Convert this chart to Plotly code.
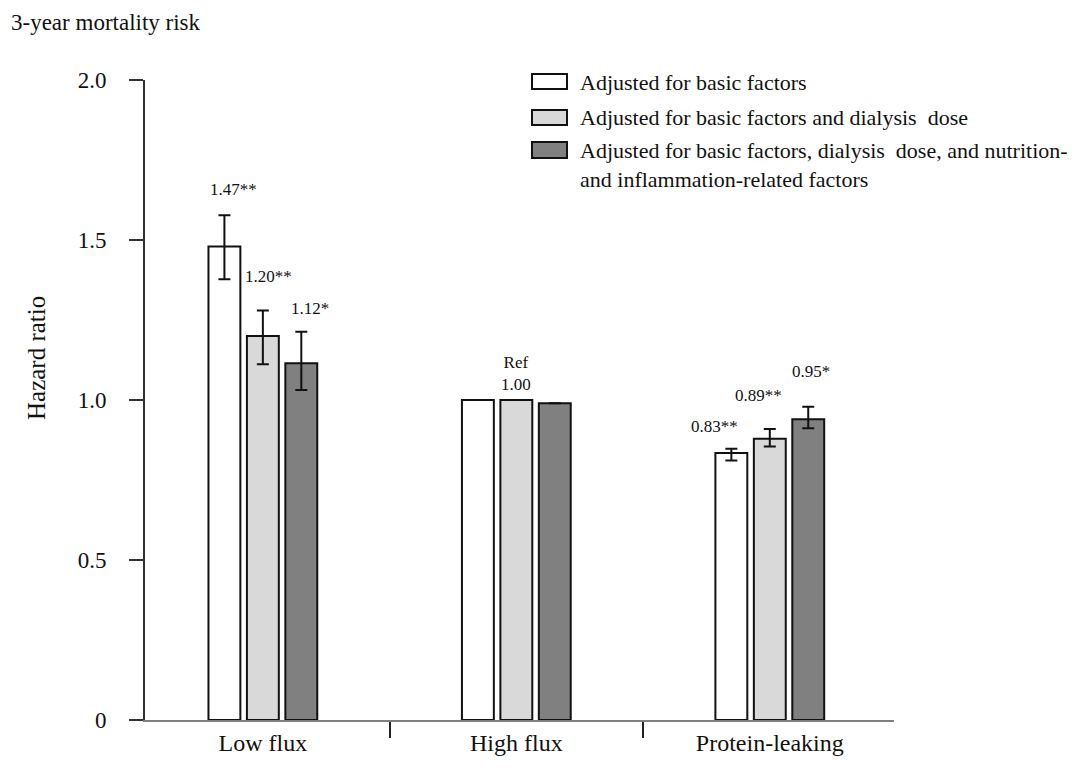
import plotly.graph_objects as go

# categories and series
grupos = ["Low flux", "High flux", "Protein-leaking"]
series = [
    "Adjusted for basic factors",
    "Adjusted for basic factors and dialysis  dose",
    "Adjusted for basic factors, dialysis  dose, and nutrition-<br>and inflammation-related factors",
]

hr_basic = [1.48, 1.00, 0.834]
hr_dose = [1.20, 1.00, 0.879]
hr_full = [1.115, 0.99, 0.94]

sup_basic = [1.577, None, 0.848]
sup_dose = [1.28, None, 0.909]
sup_full = [1.213, None, 0.979]

inf_basic = [1.377, None, 0.811]
inf_dose = [1.112, None, 0.855]
inf_full = [1.031, None, 0.912]

etiq_basic = ["1.47**", "", "0.83**"]
etiq_dose = ["1.20**", "Ref<br>1.00", "0.89**"]
etiq_full = ["1.12*", "", "0.95*"]

ticks_y = [0, 0.5, 1.0, 1.5, 2.0]
ticks_y_txt = ["0", "0.5", "1.0", "1.5", "2.0"]

colores = ["#ffffff", "#d9d9d9", "#808080"]
FUENTE = "Liberation Serif"

# la pagina tiene 8px de margen en el body
BODY = 8
W, H = 1084 - BODY, 774 - BODY
ML, MR, MT, MB = 145 - BODY, 190, 80 - BODY, 54
BARGAP = 0.545


def px_x(p):
    return (p - BODY - ML) / (W - ML - MR)


def px_y(p):
    return (H - MB - (p - BODY)) / (H - MT - MB)


fig = go.Figure()
datos = [
    (hr_basic, sup_basic, inf_basic),
    (hr_dose, sup_dose, inf_dose),
    (hr_full, sup_full, inf_full),
]
for nombre, (vals, sup, inf), color in zip(series, datos, colores):
    arriba = [None if s is None else s - v for s, v in zip(sup, vals)]
    abajo = [None if i is None else v - i for i, v in zip(inf, vals)]
    fig.add_trace(go.Bar(
        x=grupos, y=vals, name=nombre,
        marker=dict(color=color, line=dict(color="#111111", width=2)),
        error_y=dict(type="data", symmetric=False, array=arriba, arrayminus=abajo,
                     color="#111111", thickness=2, width=6),
        showlegend=False,
    ))

# etiquetas sobre las barras
slot = (1 - BARGAP) / 3
desp_x = [[9, 0, -17], [6, 0, -11], [9, 0, 3]]
desp_y = [[14, 0, 11], [22, 4, 22], [12, 0, 24]]
for j, (etiq, (vals, sup, inf)) in enumerate(zip([etiq_basic, etiq_dose, etiq_full], datos)):
    for i, t in enumerate(etiq):
        if not t:
            continue
        y = sup[i] if sup[i] is not None else vals[i]
        fig.add_annotation(
            x=i + (j - 1) * slot, y=y, text=t, showarrow=False,
            xanchor="center", yanchor="bottom",
            xshift=desp_x[j][i], yshift=desp_y[j][i],
            font=dict(family=FUENTE, size=17, color="#111111"),
        )

# leyenda manual
cajas = [(74, 89), (110, 125), (142, 158)]
filas_txt = [82, 117, 150]
for nombre, color, (y0, y1), yt in zip(series, colores, cajas, filas_txt):
    fig.add_shape(type="rect", xref="paper", yref="paper",
                  x0=px_x(532), x1=px_x(567), y0=px_y(y1), y1=px_y(y0),
                  fillcolor=color, line=dict(color="#111111", width=2))
    fig.add_annotation(xref="paper", yref="paper", x=px_x(578), y=px_y(yt - 14),
                       text=nombre, showarrow=False, xanchor="left", yanchor="top",
                       align="left", font=dict(family=FUENTE, size=22, color="#111111"))

fig.add_annotation(xref="paper", yref="paper", x=px_x(9), y=px_y(BODY),
                   text="3-year mortality risk", showarrow=False,
                   xanchor="left", yanchor="top",
                   font=dict(family=FUENTE, size=23, color="#111111"))
fig.add_annotation(xref="paper", yref="paper", x=px_x(36), y=px_y(358),
                   text="Hazard ratio", showarrow=False, textangle=-90,
                   xanchor="center", yanchor="middle",
                   font=dict(family=FUENTE, size=25, color="#111111"))

fig.update_layout(
    width=W, height=H,
    margin=dict(l=ML, r=MR, t=MT, b=MB),
    plot_bgcolor="white", paper_bgcolor="white",
    barmode="group", bargap=BARGAP, bargroupgap=0.17,
    showlegend=False,
    xaxis=dict(
        range=[-0.465, 2.49], showgrid=False, zeroline=False,
        showline=True, linecolor="#7f7f7f", linewidth=2,
        ticks="outside", tickson="boundaries", ticklen=16, tickwidth=1.5, tickcolor="#222222",
        tickfont=dict(family=FUENTE, size=24, color="#111111"),
    ),
    yaxis=dict(
        range=[0, 2.0], showgrid=False, zeroline=False,
        showline=True, linecolor="#333333", linewidth=2,
        ticks="outside", ticklen=14, tickwidth=2, tickcolor="#333333",
        tickvals=ticks_y, ticktext=ticks_y_txt, ticklabelstandoff=18,
        tickfont=dict(family=FUENTE, size=23, color="#111111"),
    ),
)

fig.write_html("out.html")
